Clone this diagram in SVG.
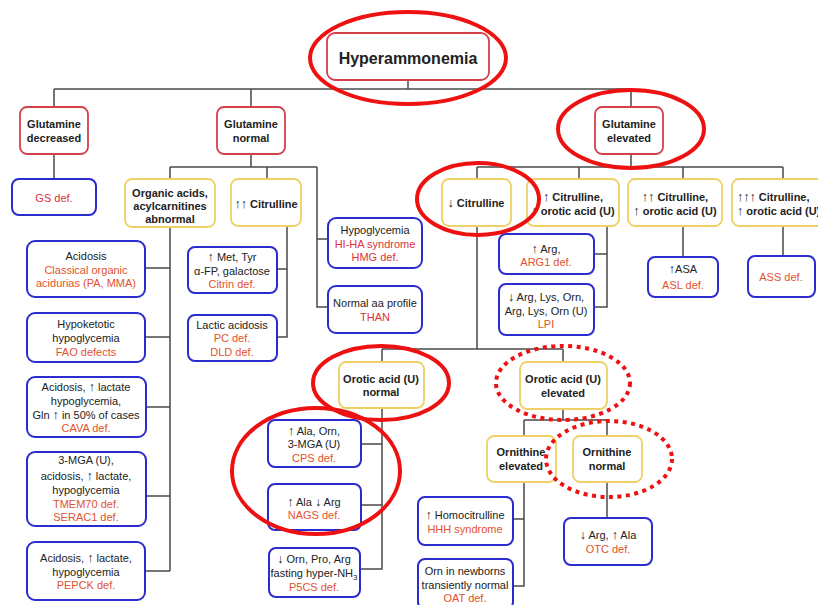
<svg xmlns="http://www.w3.org/2000/svg" width="818" height="605" viewBox="0 0 818 605">
<style>
  rect{fill:#fff;stroke-width:1.8}
  .r{stroke:#d4404a}
  .y{stroke:#efd064}
  .b{stroke:#2b2bd0;stroke-width:2}
  text{font-family:"Liberation Sans",Arial,sans-serif;font-size:11px;text-anchor:middle;fill:#222}
  .t{font-weight:bold}
  .d{fill:#e2522e}
  .dr{fill:#e0303c}
  .a{font-size:12.5px;font-weight:normal}
  .c{fill:none;stroke:#4a4a4a;stroke-width:1.5}
  .e{fill:none;stroke:#ee1111;stroke-width:4}
  .ed{fill:none;stroke:#ee1111;stroke-width:4;stroke-dasharray:4 4.5}
</style>
<rect x="0" y="0" width="818" height="605" style="fill:#fff;stroke:none"/>
<g id="connectors" class="c">
  <path d="M408 80V89M54 89H631M54 89V107M251 89V107M631 89V107"/>
  <path d="M54 154V179"/>
  <path d="M251 154V167M170 167H317M170 167V179M267 167V179M317 167V307H328M317 239H328"/>
  <path d="M170 227V571M145 268H170M145 337H170M146 407H170M146 496H170M145 571H170"/>
  <path d="M287 226V337H277M277 269H287"/>
  <path d="M631 154V167M477 167H783M477 167V179M579 167V179M683 167V179M783 167V179"/>
  <path d="M477 226V349M382 349H563M382 349V362M563 349V362"/>
  <path d="M607 226V307H594M594 254H607"/>
  <path d="M683 226V257M783 226V256"/>
  <path d="M382 408V569H360M361 444H382M361 505H382"/>
  <path d="M563 409V420M524 420H607M524 420V436M607 420V436"/>
  <path d="M524 482V586H513M513 519H524"/>
  <path d="M607 482V518"/>
</g>
<g id="hyperammonemia"><rect class="r" x="327" y="33" width="162" height="47" rx="8"/><text class="t" x="408" y="64" style="font-size:16px">Hyperammonemia</text></g>
<g id="gln-decreased"><rect class="r" x="20" y="107" width="68" height="47" rx="7"/><text class="t" x="54" y="128">Glutamine</text><text class="t" x="54" y="142">decreased</text></g>
<g id="gln-normal"><rect class="r" x="217" y="107" width="68" height="47" rx="7"/><text class="t" x="251" y="128">Glutamine</text><text class="t" x="251" y="142">normal</text></g>
<g id="gln-elevated"><rect class="r" x="595" y="107" width="68" height="47" rx="7"/><text class="t" x="629" y="128">Glutamine</text><text class="t" x="629" y="142">elevated</text></g>
<g id="gs"><rect class="b" x="12" y="179" width="84" height="36" rx="7"/><text class="dr" x="54" y="202">GS def.</text></g>
<g id="organic"><rect class="y" x="125" y="179" width="90" height="48" rx="7"/><text class="t" x="170" y="197">Organic acids,</text><text class="t" x="170" y="210">acylcarnitines</text><text class="t" x="170" y="223">abnormal</text></g>
<g id="cit2"><rect class="y" x="231" y="179" width="70" height="47" rx="7"/><text class="t" x="266" y="208"><tspan class="a">↑↑</tspan> Citrulline</text></g>
<g id="acidosis"><rect class="b" x="27" y="241" width="118" height="56" rx="8"/><text x="86" y="260">Acidosis</text><text class="d" x="86" y="274">Classical organic</text><text class="d" x="86" y="287">acidurias (PA, MMA)</text></g>
<g id="fao"><rect class="b" x="27" y="313" width="118" height="49" rx="8"/><text x="86" y="328">Hypoketotic</text><text x="86" y="342">hypoglycemia</text><text class="d" x="86" y="356">FAO defects</text></g>
<g id="cava"><rect class="b" x="27" y="377" width="119" height="60" rx="8"/><text x="86" y="391">Acidosis, <tspan class="a">↑</tspan> lactate</text><text x="86" y="405">hypoglycemia,</text><text x="86" y="419">Gln <tspan class="a">↑</tspan> in 50% of cases</text><text class="d" x="86" y="432">CAVA def.</text></g>
<g id="tmem70"><rect class="b" x="27" y="452" width="119" height="74" rx="8"/><text x="86" y="464">3-MGA (U),</text><text x="86" y="480">acidosis, <tspan class="a">↑</tspan> lactate,</text><text x="86" y="494">hypoglycemia</text><text class="d" x="86" y="508">TMEM70 def.</text><text class="d" x="86" y="521">SERAC1 def.</text></g>
<g id="pepck"><rect class="b" x="27" y="542" width="118" height="58" rx="8"/><text x="86" y="562">Acidosis, <tspan class="a">↑</tspan> lactate,</text><text x="86" y="576">hypoglycemia</text><text class="d" x="86" y="589">PEPCK def.</text></g>
<g id="citrin"><rect class="b" x="188" y="247" width="89" height="46" rx="7"/><text x="232" y="261"><tspan class="a">↑</tspan> Met, Tyr</text><text x="232" y="275">α-FP, galactose</text><text class="d" x="232" y="288">Citrin def.</text></g>
<g id="lactic"><rect class="b" x="188" y="315" width="89" height="46" rx="7"/><text x="232" y="329">Lactic acidosis</text><text class="d" x="232" y="342">PC def.</text><text class="d" x="232" y="356">DLD def.</text></g>
<g id="hypoglycemia"><rect class="b" x="328" y="218" width="94" height="50" rx="8"/><text x="375" y="234">Hypoglycemia</text><text class="dr" x="375" y="248">HI-HA syndrome</text><text class="dr" x="375" y="261">HMG def.</text></g>
<g id="than"><rect class="b" x="328" y="286" width="94" height="47" rx="8"/><text x="375" y="307">Normal aa profile</text><text class="dr" x="375" y="321">THAN</text></g>
<g id="cit-down"><rect class="y" x="442" y="179" width="69" height="47" rx="7"/><text class="t" x="476" y="207"><tspan class="a">↓</tspan> Citrulline</text></g>
<g id="cit1"><rect class="y" x="527" y="179" width="92" height="47" rx="7"/><text class="t" x="573" y="201"><tspan class="a">↑</tspan> Citrulline,</text><text class="t" x="573" y="215"><tspan class="a">↑</tspan> orotic acid (U)</text></g>
<g id="cit2b"><rect class="y" x="628" y="179" width="94" height="47" rx="7"/><text class="t" x="675" y="201"><tspan class="a">↑↑</tspan> Citrulline,</text><text class="t" x="675" y="215"><tspan class="a">↑</tspan> orotic acid (U)</text></g>
<g id="cit3"><rect class="y" x="732" y="179" width="102" height="47" rx="7"/><text class="t" x="737" y="201" style="text-anchor:start"><tspan class="a">↑↑↑</tspan> Citrulline,</text><text class="t" x="737" y="215" style="text-anchor:start"><tspan class="a">↑</tspan> orotic acid (U)</text></g>
<g id="arg1"><rect class="b" x="499" y="234" width="95" height="40" rx="7"/><text x="546" y="253"><tspan class="a">↑</tspan>   Arg,</text><text class="d" x="546" y="266">ARG1 def.</text></g>
<g id="lpi"><rect class="b" x="499" y="284" width="95" height="51" rx="7"/><text x="546" y="301"><tspan class="a">↓</tspan> Arg, Lys, Orn,</text><text x="546" y="315">Arg, Lys, Orn (U)</text><text class="d" x="546" y="328">LPI</text></g>
<g id="asl"><rect class="b" x="648" y="257" width="70" height="40" rx="7"/><text x="683" y="273"><tspan class="a">↑</tspan>ASA</text><text class="d" x="683" y="289">ASL def.</text></g>
<g id="ass"><rect class="b" x="748" y="256" width="67" height="41" rx="7"/><text class="d" x="781" y="281">ASS def.</text></g>
<g id="orotic-normal"><rect class="y" x="339" y="362" width="85" height="46" rx="7"/><text class="t" x="381" y="383">Orotic acid (U)</text><text class="t" x="381" y="396">normal</text></g>
<g id="orotic-elevated"><rect class="y" x="520" y="362" width="87" height="47" rx="7"/><text class="t" x="563" y="383">Orotic acid (U)</text><text class="t" x="563" y="397">elevated</text></g>
<g id="cps"><rect class="b" x="268" y="420" width="93" height="47" rx="7"/><text x="314" y="435"><tspan class="a">↑</tspan> Ala, Orn,</text><text x="314" y="448">3-MGA (U)</text><text class="d" x="314" y="462">CPS def.</text></g>
<g id="nags"><rect class="b" x="268" y="484" width="93" height="46" rx="7"/><text x="314" y="506"><tspan class="a">↑</tspan> Ala <tspan class="a">↓</tspan> Arg</text><text class="d" x="314" y="519">NAGS def.</text></g>
<g id="p5cs"><rect class="b" x="269" y="548" width="91" height="49" rx="7"/><text x="314" y="563"><tspan class="a">↓</tspan> Orn, Pro, Arg</text><text x="314" y="577">fasting hyper-NH<tspan style="font-size:8px" dy="3">3</tspan></text><text class="d" x="314" y="591">P5CS def.</text></g>
<g id="orn-elevated"><rect class="y" x="487" y="436" width="69" height="46" rx="7"/><text class="t" x="521" y="456">Ornithine</text><text class="t" x="521" y="470">elevated</text></g>
<g id="orn-normal"><rect class="y" x="573" y="436" width="69" height="46" rx="7"/><text class="t" x="607" y="456">Ornithine</text><text class="t" x="607" y="470">normal</text></g>
<g id="hhh"><rect class="b" x="418" y="497" width="95" height="48" rx="7"/><text x="465" y="519"><tspan class="a">↑</tspan> Homocitrulline</text><text class="d" x="465" y="533">HHH syndrome</text></g>
<g id="oat"><rect class="b" x="418" y="559" width="95" height="50" rx="7"/><text x="465" y="575">Orn in newborns</text><text x="465" y="589">transiently normal</text><text class="d" x="465" y="602">OAT def.</text></g>
<g id="otc"><rect class="b" x="564" y="518" width="88" height="47" rx="7"/><text x="608" y="539"><tspan class="a">↓</tspan> Arg, <tspan class="a">↑</tspan> Ala</text><text class="d" x="608" y="553">OTC def.</text></g>
<g id="highlights">
  <ellipse class="e" cx="408" cy="58" rx="98" ry="46"/>
  <ellipse class="e" cx="631" cy="129" rx="73" ry="39"/>
  <ellipse class="e" cx="478" cy="199" rx="61" ry="36"/>
  <ellipse class="e" cx="381" cy="383" rx="68" ry="37"/>
  <ellipse class="e" cx="316" cy="471" rx="84" ry="63"/>
  <ellipse class="ed" cx="563" cy="383" rx="67" ry="37"/>
  <ellipse class="ed" cx="609" cy="459" rx="63" ry="38"/>
</g>
</svg>
